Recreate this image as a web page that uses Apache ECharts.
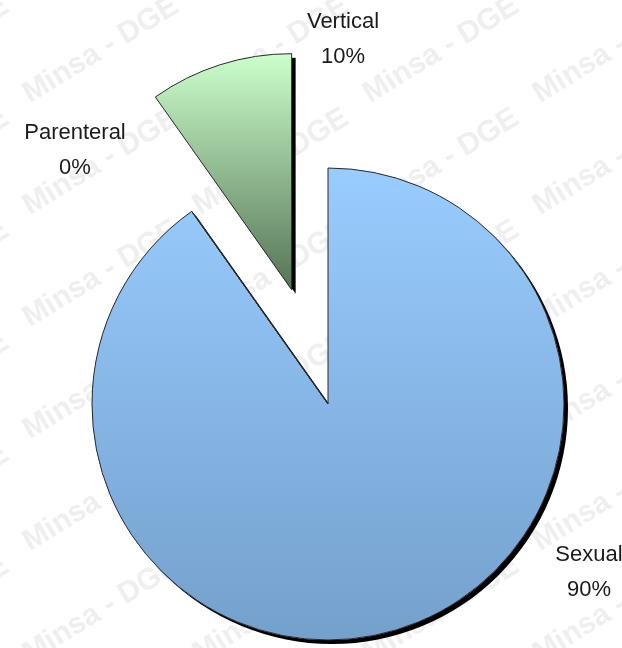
<!DOCTYPE html>
<html>
<head>
<meta charset="utf-8">
<script src="https://cdn.jsdelivr.net/npm/echarts@6/dist/echarts.min.js"></script>
<style>
  html, body { margin: 0; padding: 0; background: #fff; }
  #main { width: 622px; height: 648px; }
</style>
</head>
<body>
<div id="main"></div>
<script>
// data (share of cases, %)
const categories = ['Sexual', 'Parenteral', 'Vertical']
const values = [90.2, 0, 9.8]
const exploded = [false, false, true]

// look
const topColors = ['#99CCFF', '#99CCFF', '#CCFFCC']
const bottomColors = ['#74A0CC', '#74A0CC', '#557355']
const labelPos = [[589, 572], [75, 150], [343, 39]]
const pieCenter = [328, 404]
const pieRadius = 236
const explodeBy = 120

const chart = echarts.init(document.getElementById('main'))

// watermark "Minsa - DGE" tiled behind the pie
const marks = []
for (let i = -1; i < 5; i++) {
    for (let j = -1; j < 7; j++) {
        marks.push({
            type: 'text',
            x: 101 + 170 * i,
            y: 50 + 112 * j,
            rotation: 0.55,
            z: -10,
            silent: true,
            style: {
                text: 'Minsa - DGE',
                fill: '#efefef',
                font: 'bold 30px "Liberation Sans", Arial, sans-serif',
                align: 'center',
                verticalAlign: 'middle'
            }
        })
    }
}

const gradient = (i) => new echarts.graphic.LinearGradient(0, 0, 0, 1, [
    { offset: 0, color: topColors[i] },
    { offset: 1, color: bottomColors[i] }
])

// face: gradient + thin outline; shadow: black copy pushed down-right
const faceStyle = (i) => ({ color: gradient(i), borderColor: '#2a2a2a', borderWidth: 1 })
const shadowStyle = (i) => ({
    color: gradient(i),
    borderWidth: 0,
    shadowColor: '#000',
    shadowBlur: 0,
    shadowOffsetX: 4,
    shadowOffsetY: 4
})
const hidden = { color: 'rgba(0,0,0,0)', borderWidth: 0 }

// where a pulled-out slice goes: along its middle angle
const total = values.reduce((a, b) => a + b, 0)
const explodedCenter = (i) => {
    const before = values.slice(0, i).reduce((a, b) => a + b, 0)
    const mid = (before + values[i] / 2) / total * 2 * Math.PI
    return [pieCenter[0] + explodeBy * Math.sin(mid), pieCenter[1] - explodeBy * Math.cos(mid)]
}

const labelOpt = {
    show: true,
    position: 'outside',
    formatter: '{b}\n{d}%',
    color: '#1a1a1a',
    fontFamily: '"Liberation Sans", Arial, sans-serif',
    fontSize: 22,
    lineHeight: 35,
    align: 'center'
}

const makePie = (center, shows, styleFn, z, withLabels) => ({
    type: 'pie',
    z: z,
    center: center,
    radius: pieRadius,
    startAngle: 90,
    clockwise: true,
    percentPrecision: 0,
    avoidLabelOverlap: false,
    silent: true,
    emphasis: { disabled: true },
    labelLine: { show: false },
    label: withLabels ? labelOpt : { show: false },
    labelLayout: withLabels ? (params) => ({
        x: labelPos[params.dataIndex][0],
        y: labelPos[params.dataIndex][1],
        align: 'center',
        verticalAlign: 'middle'
    }) : null,
    data: categories.map((name, i) => ({
        name: name,
        value: values[i],
        itemStyle: shows(i) ? styleFn(i) : hidden
    }))
})

const series = [
    makePie(pieCenter, (i) => !exploded[i], shadowStyle, 1, false),
    makePie(pieCenter, (i) => !exploded[i], faceStyle, 2, true)
]
exploded.forEach((on, k) => {
    if (!on) return
    series.push(makePie(explodedCenter(k), (i) => i === k, shadowStyle, 1, false))
    series.push(makePie(explodedCenter(k), (i) => i === k, faceStyle, 2, false))
})

chart.setOption({
    backgroundColor: '#fff',
    animation: false,
    graphic: marks,
    series: series
})
</script>
</body>
</html>
